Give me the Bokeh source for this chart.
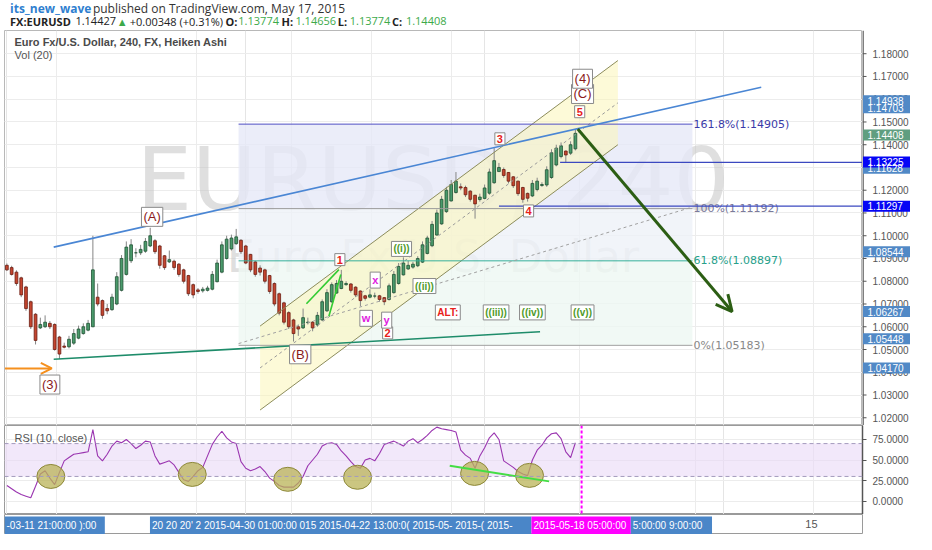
from bokeh.plotting import figure
from bokeh.layouts import column, row
from bokeh.models import (ColumnDataSource, Range1d, FixedTicker, NumeralTickFormatter, Grid,
                          Label, Arrow, OpenHead, Span, BoxAnnotation)
from bokeh.core.properties import value
from bokeh.embed import file_html
from bokeh.resources import INLINE

# --- Heiken Ashi candles, EURUSD 240 min (bar index 0 = first bar on screen)
ha_open = [1.0870, 1.0860, 1.0840, 1.0815, 1.0775, 1.0710, 1.0655, 1.0595, 1.0600, 1.0615,
           1.0610, 1.0555, 1.0515, 1.0512, 1.0528, 1.0550, 1.0570, 1.0585, 1.0600, 1.0730,
           1.0715, 1.0680, 1.0675, 1.0700, 1.0760, 1.0830, 1.0890, 1.0925, 1.0925, 1.0932,
           1.0955, 1.0978, 1.0955, 1.0912, 1.0885, 1.0888, 1.0875, 1.0850, 1.0825, 1.0785,
           1.0762, 1.0758, 1.0760, 1.0765, 1.0798, 1.0840, 1.0900, 1.0942, 1.0965, 1.0980,
           1.0955, 1.0918, 1.0885, 1.0858, 1.0850, 1.0825, 1.0790, 1.0745, 1.0705, 1.0662,
           1.0630, 1.0600, 1.0595, 1.0618, 1.0620, 1.0608, 1.0630, 1.0670, 1.0710, 1.0748,
           1.0768, 1.0785, 1.0788, 1.0774, 1.0757, 1.0736, 1.0730, 1.0735, 1.0736, 1.0728,
           1.0720, 1.0750, 1.0790, 1.0828, 1.0854, 1.0862, 1.0868, 1.0884, 1.0922, 1.0956,
           1.1003, 1.1052, 1.1106, 1.1153, 1.1190, 1.1215, 1.1212, 1.1196, 1.1178, 1.1159,
           1.1164, 1.1187, 1.1233, 1.1282, 1.1291, 1.1278, 1.1259, 1.1240, 1.1212, 1.1186,
           1.1175, 1.1203, 1.1221, 1.1223, 1.1256, 1.1311, 1.1348, 1.1372, 1.1363, 1.1382]
ha_high = [1.0878, 1.0868, 1.0848, 1.0820, 1.0780, 1.0715, 1.0660, 1.0640, 1.0650, 1.0625,
           1.0615, 1.0560, 1.0530, 1.0560, 1.0590, 1.0605, 1.0615, 1.0630, 1.1000, 1.0790,
           1.0720, 1.0700, 1.0745, 1.0840, 1.0915, 1.0975, 1.0985, 1.0945, 1.0960, 1.0990,
           1.1035, 1.0985, 1.0960, 1.0915, 1.0935, 1.0895, 1.0880, 1.0855, 1.0828, 1.0790,
           1.0770, 1.0775, 1.0780, 1.0845, 1.0895, 1.0975, 1.1000, 1.1005, 1.1030, 1.0985,
           1.0960, 1.0920, 1.0890, 1.0870, 1.0855, 1.0828, 1.0795, 1.0750, 1.0710, 1.0668,
           1.0635, 1.0610, 1.0680, 1.0640, 1.0625, 1.0665, 1.0720, 1.0765, 1.0795, 1.0805,
           1.0850, 1.0800, 1.0792, 1.0778, 1.0760, 1.0740, 1.0765, 1.0750, 1.0740, 1.0730,
           1.0790, 1.0845, 1.0880, 1.0905, 1.0890, 1.0885, 1.0910, 1.0975, 1.1000, 1.1065,
           1.1115, 1.1175, 1.1215, 1.1245, 1.1280, 1.1230, 1.1220, 1.1200, 1.1180, 1.1185,
           1.1225, 1.1295, 1.1385, 1.1320, 1.1300, 1.1280, 1.1262, 1.1242, 1.1215, 1.1190,
           1.1245, 1.1255, 1.1235, 1.1305, 1.1380, 1.1400, 1.1410, 1.1375, 1.1415, 1.1466]
ha_low = [1.0845, 1.0825, 1.0780, 1.0730, 1.0670, 1.0590, 1.0522, 1.0590, 1.0595, 1.0590,
          1.0495, 1.0458, 1.0505, 1.0505, 1.0520, 1.0545, 1.0565, 1.0580, 1.0598, 1.0690,
          1.0635, 1.0655, 1.0670, 1.0695, 1.0755, 1.0825, 1.0880, 1.0905, 1.0915, 1.0925,
          1.0950, 1.0920, 1.0855, 1.0850, 1.0880, 1.0850, 1.0820, 1.0790, 1.0735, 1.0725,
          1.0745, 1.0750, 1.0755, 1.0760, 1.0795, 1.0835, 1.0895, 1.0935, 1.0960, 1.0920,
          1.0875, 1.0840, 1.0820, 1.0825, 1.0790, 1.0745, 1.0690, 1.0650, 1.0610, 1.0590,
          1.0535, 1.0560, 1.0590, 1.0610, 1.0580, 1.0600, 1.0625, 1.0665, 1.0705, 1.0745,
          1.0765, 1.0780, 1.0750, 1.0730, 1.0690, 1.0715, 1.0725, 1.0725, 1.0710, 1.0695,
          1.0715, 1.0745, 1.0785, 1.0825, 1.0850, 1.0855, 1.0862, 1.0880, 1.0918, 1.0950,
          1.1000, 1.1048, 1.1100, 1.1150, 1.1185, 1.1200, 1.1170, 1.1150, 1.1075, 1.1150,
          1.1160, 1.1180, 1.1228, 1.1290, 1.1255, 1.1230, 1.1210, 1.1175, 1.1145, 1.1150,
          1.1170, 1.1195, 1.1215, 1.1215, 1.1250, 1.1305, 1.1340, 1.1320, 1.1355, 1.1375]
ha_close = [1.0850, 1.0830, 1.0790, 1.0740, 1.0680, 1.0600, 1.0540, 1.0610, 1.0620, 1.0600,
            1.0500, 1.0480, 1.0510, 1.0545, 1.0570, 1.0590, 1.0600, 1.0615, 1.0850, 1.0700,
            1.0650, 1.0670, 1.0730, 1.0820, 1.0900, 1.0950, 1.0960, 1.0925, 1.0940, 1.0975,
            1.1000, 1.0930, 1.0870, 1.0860, 1.0895, 1.0860, 1.0830, 1.0800, 1.0745, 1.0740,
            1.0755, 1.0765, 1.0770, 1.0830, 1.0880, 1.0960, 1.0985, 1.0990, 1.0995, 1.0930,
            1.0880, 1.0850, 1.0830, 1.0840, 1.0800, 1.0755, 1.0700, 1.0660, 1.0620, 1.0600,
            1.0570, 1.0590, 1.0640, 1.0620, 1.0595, 1.0650, 1.0710, 1.0750, 1.0785, 1.0790,
            1.0800, 1.0790, 1.0760, 1.0740, 1.0715, 1.0725, 1.0740, 1.0735, 1.0720, 1.0710,
            1.0780, 1.0830, 1.0865, 1.0880, 1.0870, 1.0875, 1.0900, 1.0960, 1.0990, 1.1050,
            1.1100, 1.1160, 1.1200, 1.1225, 1.1240, 1.1210, 1.1180, 1.1160, 1.1140, 1.1170,
            1.1210, 1.1280, 1.1330, 1.1300, 1.1265, 1.1240, 1.1220, 1.1185, 1.1160, 1.1165,
            1.1230, 1.1240, 1.1225, 1.1290, 1.1365, 1.1385, 1.1395, 1.1355, 1.1400, 1.1450]

# --- RSI(10, close), one value per bar
rsi10 = [19, 15, 11, 8, 6, 4, 18, 33, 37, 28, 20, 35, 49, 53, 57, 58, 59, 60, 87, 55,
         49, 57, 67, 73, 71, 75, 70, 64, 68, 73, 72, 55, 45, 47, 49, 44, 35, 26, 24, 30,
         37, 41, 55, 69, 78, 85, 77, 72, 70, 48, 40, 37, 39, 42, 36, 28, 24, 19, 17, 17,
         17, 22, 30, 43, 50, 57, 67, 70, 71, 69, 61, 55, 48, 42, 40, 50, 52, 49, 58, 69,
         71, 73, 70, 67, 73, 76, 71, 75, 80, 86, 90, 88, 87, 86, 84, 62, 56, 52, 40, 55,
         65, 77, 83, 75, 49, 45, 41, 36, 33, 31, 50, 62, 68, 77, 82, 83, 76, 60, 53, 71]

price_ticks = [1.02, 1.03, 1.04, 1.05, 1.06, 1.07, 1.08, 1.09, 1.10,
               1.11, 1.12, 1.13, 1.14, 1.15, 1.16, 1.17, 1.18]
rsi_ticks = [0, 25, 50, 75]
grid_x = [10.4, 39.6, 59.6, 76.3, 93.1, 119.9, 144.1, 168.8]

# --- drawings on the price pane (bar index, price)
fib_levels = [1.14905, 1.11192, 1.08897, 1.05183]
fib_names = ["161.8%(1.14905)", "100%(1.11192)", "61.8%(1.08897)", "0%(1.05183)"]
fib_span = [48.5, 143.5]
fib_diag_y = [1.0526, 1.1126]
chan_x = [53.0, 127.9]
chan_upper = [1.0603, 1.1770]
chan_lower = [1.0234, 1.1400]
chan_mid = [1.0419, 1.1584]
top_line_x, top_line_y = [9.8, 157.9], [1.0950, 1.1653]
base_line_x, base_line_y = [9.8, 111.6], [1.0457, 1.0578]
ray_levels = [1.13225, 1.11297]
ray_start = [115.8, 103.0]
wave1_x = [[62.7, 69.5], [67.4, 69.9]]
wave1_y = [[1.0701, 1.0851], [1.0646, 1.0830]]
arrow_in = (-0.4, 9.4, 1.0417)
arrow_down = (119.5, 1.1469, 151.8, 1.0667)

wave_major = ["(3)", "(A)", "(B)", "(C)", "(4)"]
wave_major_x = [9.0, 30.4, 61.4, 120.5, 120.5]
wave_major_y = [1.0346, 1.1083, 1.0479, 1.1623, 1.1690]
wave_minor = ["1", "2", "3", "4", "5"]
wave_minor_x = [69.7, 79.7, 103.2, 109.2, 119.9]
wave_minor_y = [1.0895, 1.0573, 1.1426, 1.1109, 1.1545]
wave_sub = ["w", "x", "y"]
wave_sub_x = [75.2, 77.1, 79.5]
wave_sub_y = [1.0637, 1.0805, 1.0629]
wave_min = ["((i))", "((ii))", "((iii))", "((iv))", "((v))"]
wave_min_x = [82.6, 87.4, 102.4, 110.0, 120.5]
wave_min_y = [1.0942, 1.0779, 1.0663, 1.0663, 1.0663]

# price tags on the scale (shown position, text, colour)
tag_text = ["1.14703", "1.11628", "1.14938", "1.14408", "1.13225", "1.11297",
            "1.08544", "1.06267", "1.05448", "1.04170"]
tag_y = [1.1563, 1.1297, 1.1593, 1.1443, 1.1324, 1.1130, 1.0930, 1.0667, 1.0547, 1.0419]
tag_color = ["#5189c6", "#5189c6", "#5189c6", "#5f9e80", "#0505f5", "#0505f5",
             "#5189c6", "#5189c6", "#5189c6", "#5189c6"]

# RSI pane marks
circ_x = [9.2, 38.8, 58.8, 73.4, 97.9, 109.4]
circ_y = [30, 32.5, 26.5, 29, 33.7, 31.3]
div_x, div_y = [92.7, 113.5], [43, 24]
cursor_x = 120.3

# time scale (as captured, labels overlap)
time_text = ["-03-11 21:00:00 ):00",
             "20 20 20' 2 2015-04-30 01:00:00 015 2015-04-22 13:00:0( 2015-05- 2015-( 2015-",
             "2015-05-18 05:00:00", "5:00:00  9:00:00"]
time_left = [-0.5, 29.95, 109.8, 130.6]
time_right = [20.5, 109.8, 130.6, 147.6]
time_fill = ["#4a86c8", "#4a86c8", "#ff00ff", "#4a86c8"]

FONT = "Liberation Sans"
FW = 858
xr = Range1d(-0.5, 179.1)
yr = Range1d(1.0166, 1.1902)

# ---------------- header
head = figure(width=916, height=30, x_range=Range1d(0, 932), y_range=Range1d(32, 0),
              x_axis_location=None, y_axis_location=None, toolbar_location=None,
              output_backend="svg", min_border=0)
head.grid.visible = False
head.outline_line_color = None
green_txt = "#3daa4a"
hx = [6, 96, 6, 77, 122, 136, 240, 254, 301, 316, 362, 375, 421, 436]
hy = [8, 8, 22, 22, 22, 22, 22, 22, 22, 22, 22, 22, 22, 22]
ht = ["its_new_wave", "published on TradingView.com, May 17, 2015", "FX:EURUSD", "1.14427", "▲",
      "+0.00348 (+0.31%)", "O:", "1.13774", "H:", "1.14656", "L:", "1.13774", "C:", "1.14408"]
hc = ["#2f7fd0", "#333333", "#222222", "#222222", green_txt, "#222222", "#222222", green_txt,
      "#222222", green_txt, "#222222", green_txt, "#222222", green_txt]
hs = ["bold", "normal", "bold", "normal", "normal", "normal", "bold", "normal",
      "bold", "normal", "bold", "normal", "bold", "normal"]
hf = ["12px", "12px"] + ["11px"] * 12
head.text(x=hx, y=hy, text=ht, text_color=hc, text_font_style=hs, text_font=value("Open Sans"),
          text_font_size=hf, text_baseline="middle")

# ---------------- price pane
main = figure(frame_width=FW, frame_height=395, x_range=xr, y_range=yr,
              x_axis_location=None, y_axis_location=None, toolbar_location=None,
              output_backend="svg", min_border_left=4, min_border_right=0,
              min_border_top=0, min_border_bottom=0)
main.outline_line_color = "#b8b8b8"
main.add_layout(Grid(dimension=0, ticker=FixedTicker(ticks=grid_x), grid_line_color="#ececec"))
main.add_layout(Grid(dimension=1, ticker=FixedTicker(ticks=price_ticks), grid_line_color="#ececec"))

# watermark
main.text(x=[89.2], y=[1.1023], text=["EURUSD, 240"], text_align="center",
          text_font=value("DejaVu Sans"), text_font_size="88px", text_color="#c4c4c4", text_alpha=0.55)
main.text(x=[89.2], y=[1.0796], text=["Euro Fx/U.S. Dollar"], text_align="center",
          text_font=value("DejaVu Sans"), text_font_size="44px", text_color="#c4c4c4", text_alpha=0.55)

# fibonacci zones + channel fill
main.quad(left=fib_span[0], right=fib_span[1], top=fib_levels[:-1], bottom=fib_levels[1:],
          fill_color=["#e6e9f8", "#edf1f8", "#eef7f3"], fill_alpha=0.8, line_color=None)
main.patch(x=[chan_x[0], chan_x[1], chan_x[1], chan_x[0]],
           y=[chan_upper[0], chan_upper[1], chan_lower[1], chan_lower[0]],
           fill_color="#fbf6b8", fill_alpha=0.55, line_color=None)

# candles
n = len(ha_close)
up = [c >= o for o, c in zip(ha_open, ha_close)]
src = ColumnDataSource(dict(
    x=list(range(n)),
    top=[max(o, c) for o, c in zip(ha_open, ha_close)],
    bottom=[min(o, c) for o, c in zip(ha_open, ha_close)],
    high=[max(h, o, c) for h, o, c in zip(ha_high, ha_open, ha_close)],
    low=[min(l, o, c) for l, o, c in zip(ha_low, ha_open, ha_close)],
    fill=["#4a9a6b" if u else "#c4452f" for u in up],
    edge=["#1f5134" if u else "#6b1d12" for u in up],
))
main.segment(x0="x", y0="low", x1="x", y1="high", source=src, line_color="#858585", line_width=1)
main.vbar(x="x", width=0.58, top="top", bottom="bottom", source=src,
          fill_color="fill", line_color="edge", line_width=0.8)

# channel lines
main.line(chan_x, chan_upper, line_color="#8c8c5c", line_width=1)
main.line(chan_x, chan_lower, line_color="#8c8c5c", line_width=1)
main.line(chan_x, chan_mid, line_color="#9a9a9a", line_width=1, line_dash="3 3")

# fib lines and texts
fib_cols = ["#4f4fc4", "#9a9a9a", "#36b09a", "#a0a0a0"]
fib_txt = ["#3a3aa8", "#7a7a9a", "#26a08a", "#888888"]
for lev, name, lc, tc in zip(fib_levels, fib_names, fib_cols, fib_txt):
    main.line(fib_span, [lev, lev], line_color=lc, line_width=1)
    main.text(x=[fib_span[1] + 0.2], y=[lev], text=[name], text_color=tc, text_baseline="middle",
              text_font=value("DejaVu Sans"), text_font_size="11px")
main.line(fib_span, fib_diag_y, line_color="#a0a0a0", line_width=1, line_dash="3 3")

# trend lines, rays
main.line(top_line_x, top_line_y, line_color="#4a86d4", line_width=1.6)
main.line(base_line_x, base_line_y, line_color="#1e8c6a", line_width=1.6)
for lev, x0 in zip(ray_levels, ray_start):
    main.line([x0, xr.end], [lev, lev], line_color="#3b48c0", line_width=1.2)
main.multi_line(wave1_x, wave1_y, line_color="#33cc33", line_width=1.6)

main.add_layout(Arrow(end=OpenHead(size=11, line_color="#f5901e", line_width=2),
                      x_start=arrow_in[0], y_start=arrow_in[2], x_end=arrow_in[1], y_end=arrow_in[2],
                      line_color="#f5901e", line_width=2))
main.add_layout(Arrow(end=OpenHead(size=16, line_color="#2c5e14", line_width=3),
                      x_start=arrow_down[0], y_start=arrow_down[1], x_end=arrow_down[2], y_end=arrow_down[3],
                      line_color="#2c5e14", line_width=3))


def boxed(fig, xs, ys, texts, color, size, bold=True):
    for x, y, t in zip(xs, ys, texts):
        fig.add_layout(Label(x=x, y=y, text=t, text_align="center", text_baseline="middle",
                             text_color=color, text_font=FONT, text_font_size=size,
                             text_font_style="bold" if bold else "normal",
                             background_fill_color="white", border_line_color="#8a8a8a",
                             border_line_width=1, padding=2))


boxed(main, wave_major_x, wave_major_y, wave_major, "#8b1a1a", "13px", bold=False)
boxed(main, wave_minor_x, wave_minor_y, wave_minor, "#e8201a", "11px")
boxed(main, wave_sub_x, wave_sub_y, wave_sub, "#e020e0", "11px")
boxed(main, wave_min_x, wave_min_y, wave_min, "#4f9a2a", "10px")
boxed(main, [92.3], [1.0663], ["ALT:"], "#e8201a", "10px")

# pane legend
main.add_layout(Label(x=1.6, y=1.1853, text="Euro Fx/U.S. Dollar, 240, FX, Heiken Ashi",
                      text_baseline="middle", text_font=FONT, text_font_size="11px",
                      text_font_style="bold", text_color="#4a4a4a"))
main.add_layout(Label(x=1.6, y=1.1796, text="Vol (20)", text_baseline="middle", text_font=FONT,
                      text_font_size="11px", text_color="#555555"))

# ---------------- price scale (shares the price range; holds the tags over the labels)
pscale = figure(frame_width=54, frame_height=395, x_range=Range1d(0, 54), y_range=yr,
                x_axis_location=None, y_axis_location=None, toolbar_location=None,
                output_backend="svg", min_border=0)
pscale.grid.visible = False
pscale.outline_line_color = None
pscale.segment(x0=0.5, y0=yr.start, x1=0.5, y1=yr.end, line_color="#555555", line_width=1.5)
pscale.segment(x0=0, x1=4, y0=price_ticks, y1=price_ticks, line_color="#555555", line_width=1)
pscale.text(x=10, y=price_ticks, text=[f"{t:.5f}" for t in price_ticks], text_baseline="middle",
            text_font=value(FONT), text_font_size="10px", text_color="#555555")
pscale.rect(x=24, y=tag_y, width=47, height=11, height_units="screen", fill_color=tag_color,
            line_color=None)
pscale.text(x=5, y=tag_y, text=tag_text, text_baseline="middle", text_font=value(FONT),
            text_font_size="10px", text_color="white")

# ---------------- RSI pane
rsi = figure(frame_width=FW, frame_height=89, x_range=xr, y_range=Range1d(-16.3, 92),
             x_axis_location=None, y_axis_location="right", toolbar_location=None,
             output_backend="svg", min_border_left=4, min_border_right=54,
             min_border_top=0, min_border_bottom=0)
rsi.outline_line_color = "#9a9a9a"
rsi.yaxis.ticker = FixedTicker(ticks=rsi_ticks)
rsi.yaxis.formatter = NumeralTickFormatter(format="0.0000")
rsi.yaxis.minor_tick_line_color = None
rsi.yaxis.major_tick_in = 0
rsi.yaxis.major_tick_out = 4
rsi.yaxis.major_label_standoff = 6
rsi.yaxis.axis_line_color = "#555555"
rsi.yaxis.axis_line_width = 1.5
rsi.yaxis.major_tick_line_color = "#555555"
rsi.yaxis.major_label_text_font = FONT
rsi.yaxis.major_label_text_font_size = "10px"
rsi.yaxis.major_label_text_color = "#555555"
rsi.ygrid.ticker = FixedTicker(ticks=rsi_ticks)
rsi.ygrid.grid_line_color = "#ececec"
rsi.add_layout(Grid(dimension=0, ticker=FixedTicker(ticks=grid_x), grid_line_color="#ececec"))
rsi.add_layout(BoxAnnotation(bottom=30, top=70, fill_color="#ead9f6", fill_alpha=0.6,
                             line_color=None, level="underlay"))
for lev in (70, 30):
    rsi.add_layout(Span(location=lev, dimension="width", line_color="#a39bbd",
                        line_dash="4 3", line_width=1))
rsi.line(list(range(n)), rsi10, line_color="#9a35b0", line_width=1.1)
rsi.ellipse(x=circ_x, y=circ_y, width=28, height=24, width_units="screen", height_units="screen",
            fill_color="#b9b357", fill_alpha=0.75, line_color="#8d8838", line_width=1)
rsi.line(div_x, div_y, line_color="#44dd44", line_width=2)
rsi.add_layout(Span(location=cursor_x, dimension="height", line_color="#ff00ff",
                    line_dash="3 2", line_width=2))
rsi.add_layout(Label(x=1.6, y=77, text="RSI (10, close)", text_baseline="middle", text_font=FONT,
                     text_font_size="11px", text_color="#555555"))

# ---------------- time scale
strip = figure(frame_width=FW, frame_height=20, x_range=xr, y_range=Range1d(0, 1),
               x_axis_location=None, y_axis_location=None, toolbar_location=None,
               output_backend="svg", min_border_left=4, min_border_right=54,
               min_border_top=0, min_border_bottom=0)
strip.grid.visible = False
strip.outline_line_color = "#9a9a9a"
strip.quad(left=time_left, right=time_right, top=0.9, bottom=0.0, fill_color=time_fill,
           line_color=None)
strip.text(x=time_left, y=[0.47] * len(time_left), text=time_text, x_offset=2,
           text_baseline="middle", text_color="white", text_font=value(FONT), text_font_size="10px")
strip.text(x=[168.4], y=[0.55], text=["15"], text_align="center", text_baseline="middle",
           text_color="#555555", text_font=value(FONT), text_font_size="11px")

page = column(head, row(main, pscale), rsi, strip)
open("out.html", "w").write(file_html(page, INLINE))
